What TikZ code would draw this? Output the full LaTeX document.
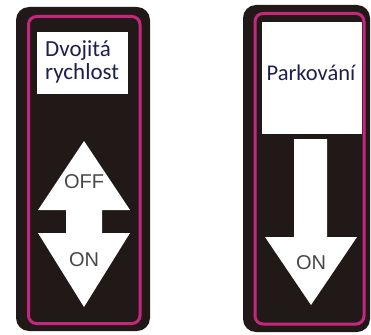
\documentclass[tikz,border=0pt]{standalone}
\usepackage{fontspec}
\setmainfont{Carlito}
\newfontfamily\arialish{Liberation Sans}
\definecolor{panelblack}{RGB}{33,24,24}
\definecolor{panelpink}{RGB}{196,40,124}
\definecolor{labelblue}{RGB}{30,30,80}
\definecolor{arrowgray}{RGB}{72,72,72}
\tikzset{
  panel/.style={fill=panelblack, rounded corners=13pt},
  rim/.style={draw=panelpink, line width=3pt, rounded corners=8pt},
  whitebox/.style={fill=white},
  arrowshape/.style={fill=white},
  labeltext/.style={inner sep=0pt, text=labelblue, font=\fontsize{23}{25}\selectfont},
  statetext/.style={inner sep=0pt, text=arrowgray, font=\arialish\fontsize{20}{22}\selectfont}
}
\begin{document}
\begin{tikzpicture}[x=1pt,y=-1pt]
\useasboundingbox (0,0) rectangle (371,334);
% left panel
\fill[panel] (16,7) rectangle (150,331);
\draw[rim] (28.5,16.5) rectangle (140,323.5);
\fill[whitebox] (37,32) rectangle (128,94);
\node[labeltext, anchor=base west] (dv1) at (45,57) {Dvojitá};
\node[labeltext, anchor=base west] (dv2) at (45,80) {rychlost};
\fill[arrowshape] (84,141) -- (130,210) -- (102,210) -- (102,233) -- (130,233)
  -- (84,307) -- (38,233) -- (66,233) -- (66,210) -- (38,210) -- cycle;
\node[statetext] (off) at (84,182) {OFF};
\node[statetext] (on1) at (84,260) {ON};
% right panel
\fill[panel] (243,5) rectangle (370,332);
\draw[rim] (255,13.5) rectangle (364,324);
\fill[whitebox] (262,22) rectangle (362,134);
\node[labeltext, anchor=base, font=\fontsize{22.5}{24}\selectfont] (park) at (311,81) {Parkování};
\fill[arrowshape] (294,139) -- (327,139) -- (327,237) -- (357,237) -- (311,305)
  -- (265,237) -- (294,237) -- cycle;
\node[statetext] (on2) at (311,263) {ON};
\end{tikzpicture}
\end{document}
